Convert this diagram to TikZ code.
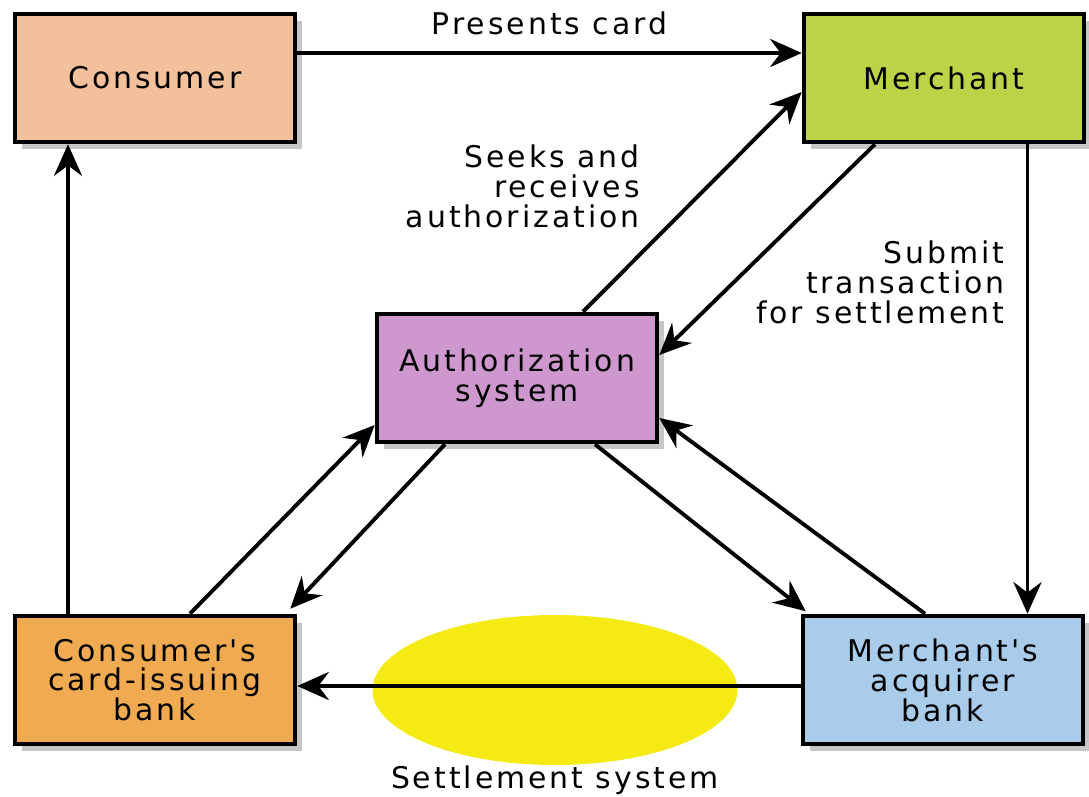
\documentclass[tikz,border=0pt]{standalone}
\usepackage{fontspec}
\newfontfamily\boxfont[LetterSpace=10]{DejaVu Sans}
\usetikzlibrary{positioning, arrows.meta, shapes.geometric, shadows}
\definecolor{consumercol}{RGB}{242,192,154}
\definecolor{merchantcol}{RGB}{190,210,72}
\definecolor{authcol}{RGB}{206,152,206}
\definecolor{cbankcol}{RGB}{240,170,82}
\definecolor{abankcol}{RGB}{168,204,234}
\definecolor{settlecol}{RGB}{246,234,20}
\begin{document}
\begin{tikzpicture}[
    party/.style={draw, line width=2.6pt, minimum width=5.6cm, minimum height=2.56cm, align=center, inner sep=0pt,
        drop shadow={shadow xshift=4pt, shadow yshift=-4pt, fill=gray!45, opacity=1},
        font=\boxfont\fontsize{17}{17}\selectfont},
    lbl/.style={align=right, inner sep=0pt, font=\boxfont\fontsize{17}{17}\selectfont},
    flow/.style={line width=2.2pt, -{Stealth[length=18pt, width=16pt, inset=6pt]}}
]
        \useasboundingbox (0,0) rectangle (21.78,15.92);
        \node[party, fill=consumercol] (consumer) at (3.1,14.36) {Consumer};
        \node[party, fill=merchantcol] (merchant) at (18.88,14.36) {Merchant};
        \node[party, fill=authcol] (auth) at (10.34,8.36) {Authorization\\system};
        \node[party, fill=cbankcol] (cbank) at (3.1,2.32) {Consumer's\\card-issuing\\bank};
        \node[party, fill=abankcol] (abank) at (18.86,2.32) {Merchant's\\acquirer\\bank};
        \node[ellipse, fill=settlecol, minimum width=7.3cm, minimum height=3cm, inner sep=0pt] (settle) at (11.1,2.12) {};
        \node[lbl, below=0pt of settle] (settlelbl) {Settlement system};
        \node[lbl, anchor=east] (seeks) at (12.8,12.2) {Seeks and\\receives\\authorization};
        \node[lbl, anchor=east] (submit) at (20.1,10.28) {Submit\\transaction\\for settlement};
        \draw[flow] ([yshift=0.5cm]consumer.east) -- node[lbl, above=9pt] (presents) {Presents card} ([yshift=0.5cm]merchant.west);
        \draw[flow] ([xshift=1.32cm]auth.north) -- ([yshift=-0.28cm]merchant.west);
        \draw[flow] ([xshift=-1.38cm]merchant.south) -- ([yshift=0.46cm]auth.east);
        \draw[flow] ([xshift=1.67cm]merchant.south) -- ([xshift=1.67cm]merchant.south |- abank.north);
        \draw[flow] ([xshift=-1.74cm]cbank.north) -- ([xshift=-1.74cm]consumer.south);
        \draw[flow] ([xshift=0.7cm]cbank.north) -- ([yshift=-0.94cm]auth.west);
        \draw[flow] ([xshift=-1.44cm]auth.south) -- ([xshift=-0.14cm,yshift=0.1cm]cbank.north east);
        \draw[flow] ([xshift=1.56cm]auth.south) -- ([xshift=0.1cm,yshift=0.05cm]abank.north west);
        \draw[flow] ([xshift=-0.36cm]abank.north) -- ([yshift=-0.8cm]auth.east);
        \draw[flow] ([yshift=-0.12cm]abank.west) -- ([yshift=-0.12cm]cbank.east);
\end{tikzpicture}
\end{document}
